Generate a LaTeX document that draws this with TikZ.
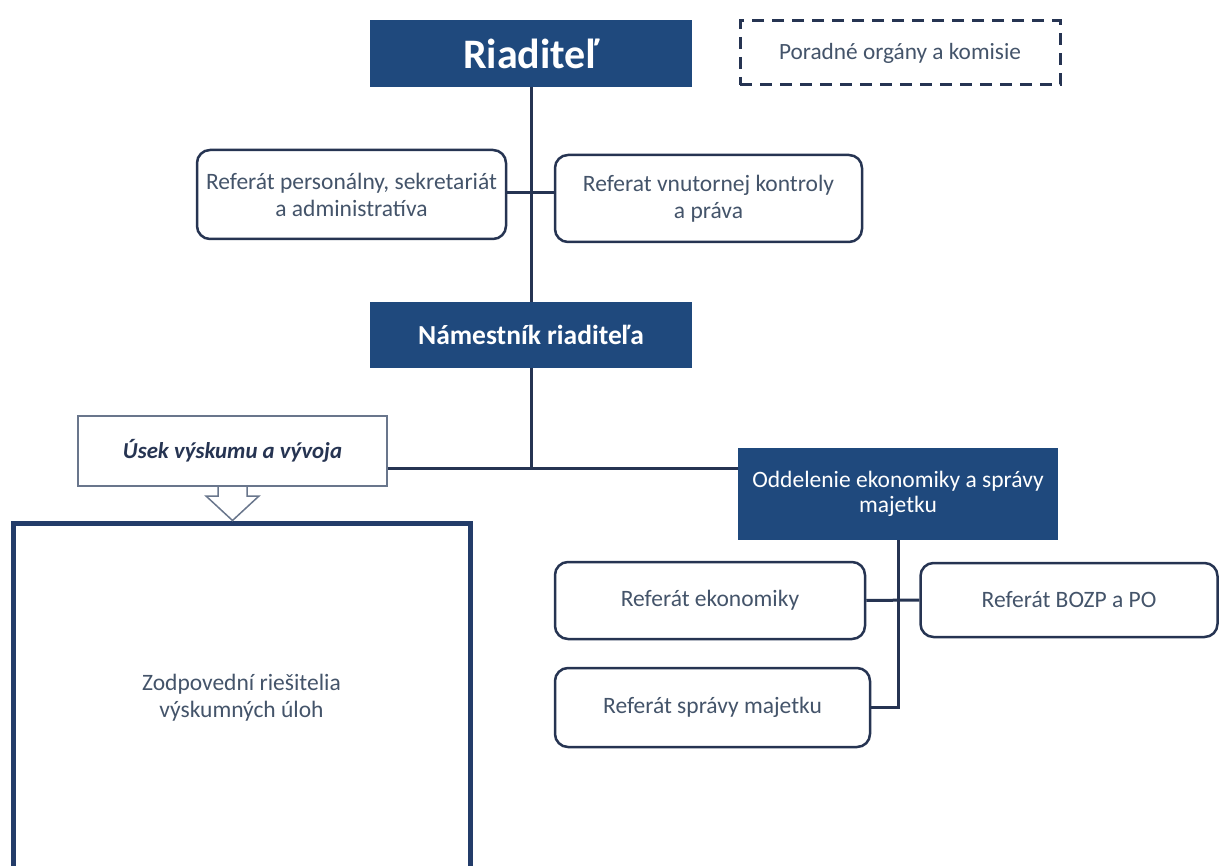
\documentclass[tikz,border=0pt]{standalone}
\usepackage{fontspec}
\setmainfont{Carlito}
\definecolor{boxblue}{RGB}{31,73,125}
\definecolor{linecol}{RGB}{38,52,82}
\definecolor{txtcol}{RGB}{68,84,106}
\definecolor{arrowcol}{RGB}{105,118,140}
\definecolor{bigcol}{RGB}{35,60,105}
\begin{document}
\begin{tikzpicture}[x=1pt,y=-1pt,
  darkbox/.style={fill=boxblue, draw=none, text=white, inner sep=0pt, align=center},
  rbox/.style={draw=linecol, line width=2.5pt, rounded corners=13pt, fill=white, text=txtcol,
    font=\fontsize{23.5}{27}\selectfont, align=center, inner sep=0pt},
  conn/.style={draw=linecol, line width=3pt},
  dashbox/.style={draw=linecol, line width=3pt, dash pattern=on 12pt off 8pt, text=txtcol,
    font=\fontsize{23.3}{27}\selectfont, inner sep=0pt},
  usekbox/.style={draw=arrowcol, line width=2pt, fill=white, text=linecol,
    font=\fontsize{22.8}{26}\selectfont\bfseries\itshape, inner sep=0pt},
  bigbox/.style={draw=bigcol, line width=5pt, fill=white, text=txtcol,
    font=\fontsize{23.5}{27}\selectfont, align=center, inner sep=0pt},
]
\useasboundingbox (0,0) rectangle (1221,866);

% nodes
\node[darkbox, minimum width=322pt, minimum height=67pt, font=\fontsize{42}{46}\selectfont\bfseries] (riad) at (531,53.5) {Riaditeľ};
\node[dashbox, minimum width=320pt, minimum height=64pt] (porad) at (900,53) {Poradné orgány a komisie};
\node[rbox, minimum width=309pt, minimum height=89pt] (pers) at (351.5,194.5) {Referát personálny, sekretariát\\a administratíva};
\node[rbox, minimum width=307pt, minimum height=87pt] (vnut) at (708.5,198.5) {Referat vnutornej kontroly\\a práva};
\node[darkbox, minimum width=322pt, minimum height=66pt, font=\fontsize{27.5}{31}\selectfont\bfseries] (nam) at (531,335) {Námestník riaditeľa};
\node[usekbox, minimum width=309pt, minimum height=70pt] (usek) at (232.5,451) {Úsek výskumu a vývoja};
\node[bigbox, minimum width=457pt, minimum height=350pt] (zodp) at (241.5,698) {Zodpovední riešitelia\\výskumných úloh};
\node[darkbox, minimum width=320pt, minimum height=92pt, font=\fontsize{23.5}{25.5}\selectfont] (odd) at (898,494) {Oddelenie ekonomiky a správy\\majetku};
\node[rbox, minimum width=310pt, minimum height=77pt] (ek) at (710,600.5) {Referát ekonomiky};
\node[rbox, minimum width=297pt, minimum height=74pt] (bozp) at (1069,600) {Referát BOZP a PO};
\node[rbox, minimum width=315pt, minimum height=79pt] (spr) at (712.5,707.5) {Referát správy majetku};

\coordinate (j) at (531,468);

% connectors
\draw[conn] (riad.south) -- (nam.north);
\draw[conn] (pers.east |- 0,193) -- (vnut.west |- 0,193);
\draw[conn] (nam.south) -- (j);
\draw[conn] (usek.east |- j) -- (odd.west |- j);
\draw[conn] (odd.south) -- (odd.south |- spr.east) -- (spr.east);
\draw[conn] (ek.east) -- (bozp.west);

% hollow block arrow from Usek to the large box
\draw[arrowcol, fill=white, line width=1.5pt, line join=miter]
  ([xshift=-14.5pt]usek.south) -- ([xshift=-14.5pt,yshift=-9pt]usek.south)
  -- ([xshift=-26.5pt,yshift=-9pt]usek.south) -- (zodp.north -| usek.south)
  -- ([xshift=26.5pt,yshift=-9pt]usek.south) -- ([xshift=14.5pt,yshift=-9pt]usek.south)
  -- ([xshift=14.5pt]usek.south);
\end{tikzpicture}
\end{document}
